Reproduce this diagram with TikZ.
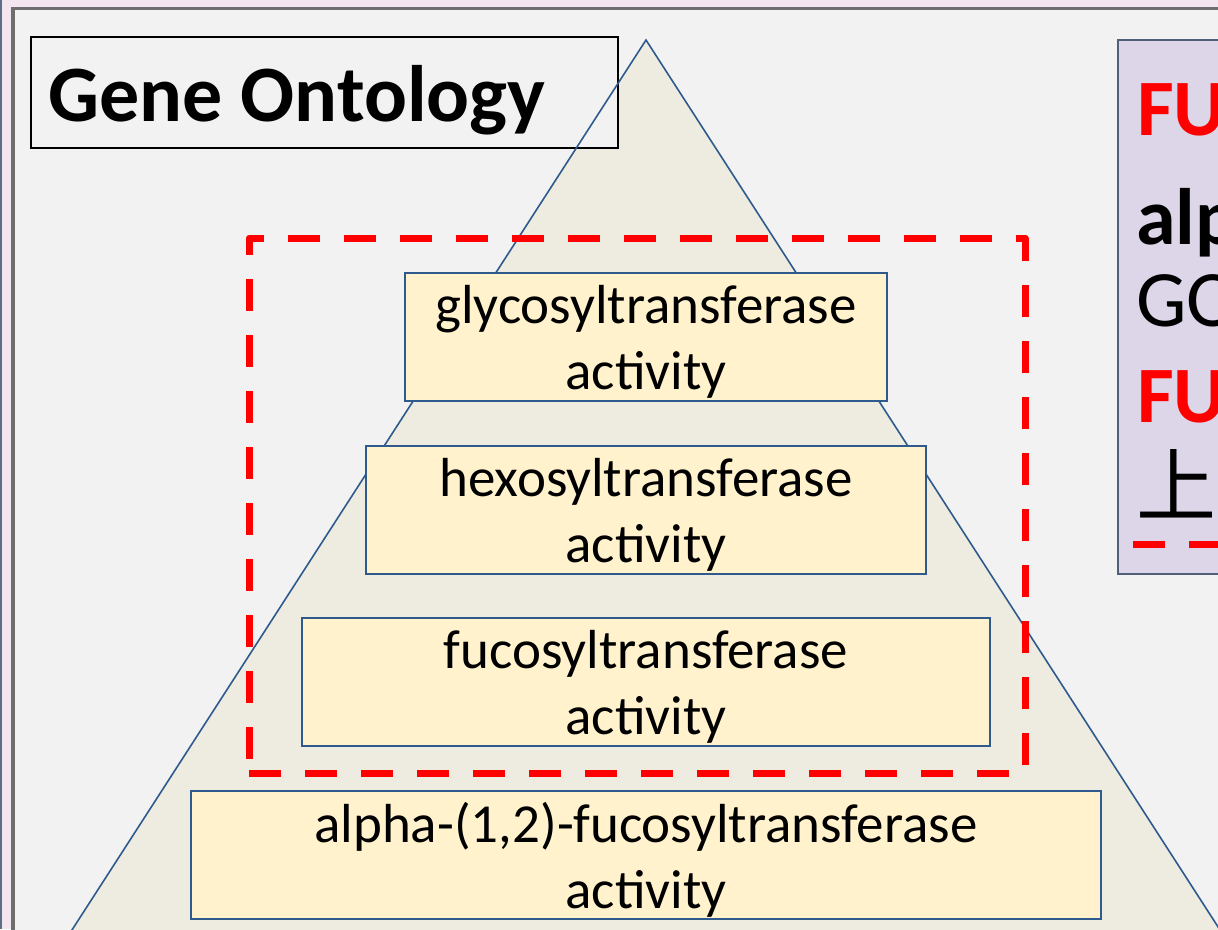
\documentclass[tikz,border=0pt]{standalone}
\usepackage{fontspec}
\setmainfont{Carlito}
\newfontfamily\cjkfont{Noto Sans CJK SC}
\usepackage{xcolor}
\definecolor{slidepink}{HTML}{F3E6EE}
\definecolor{slideedge}{HTML}{5F6F88}
\definecolor{framegray}{HTML}{6E6E6E}
\definecolor{pagegray}{HTML}{F2F2F2}
\definecolor{pyrfill}{HTML}{EEECE1}
\definecolor{pyredge}{HTML}{2F5A8E}
\definecolor{termfill}{HTML}{FFF2CC}
\definecolor{panelfill}{HTML}{DDD6E8}
\definecolor{paneledge}{HTML}{4F5F78}
\usepackage{tikz}

\begin{document}
\begin{tikzpicture}[
  x=1pt, y=-1pt,
  termbox/.style={draw=pyredge, line width=1.5pt, fill=termfill, minimum height=128pt, inner sep=0pt},
  termtxt/.style={align=center, inner sep=0pt, yshift=-5pt, font=\fontsize{55}{66}\selectfont},
  hilite/.style={draw=red, line width=7pt, dash pattern=on 32pt off 24pt, line join=round},
  bigtxt/.style={anchor=base west, inner sep=0pt, font=\fontsize{80}{96}\selectfont},
  bigbold/.style={bigtxt, font=\fontsize{80}{96}\selectfont\bfseries}
]
  \useasboundingbox (0,0) rectangle (1218,929);
  \clip (0,0) rectangle (1218,929);

  % slide background and frame
  \fill[slidepink] (0,0) rectangle (1218,929);
  \draw[slideedge, line width=2pt] (1,0) -- (1,929);
  \draw[framegray, line width=3.5pt, fill=pagegray] (12.8,8.5) rectangle (1300,1000);

  % pyramid
  \coordinate (apex) at (646,40);
  \fill[pyrfill] (apex) -- (26.8,1000) -- (1265.2,1000) -- cycle;

  % title
  \node[draw=black, line width=1.5pt, fill=pagegray, minimum width=587pt, minimum height=111pt,
        inner sep=0pt] (title) at (324.5,92.5) {};
  \node[bigbold] (titletxt) at (48,121) {Gene Ontology};

  \draw[pyredge, line width=1.6pt] (26.8,1000) -- (apex) -- (1265.2,1000);

  % GO terms, general to specific
  \node[termbox, minimum width=482pt, label={[termtxt]center:glycosyltransferase\\activity}] (glyco) at (646,337) {};
  \node[termbox, minimum width=560pt, label={[termtxt]center:hexosyltransferase\\activity}] (hexo) at (646,510) {};
  \node[termbox, minimum width=688pt, label={[termtxt]center:fucosyltransferase\\activity}] (fuco) at (646,682) {};
  \node[termbox, minimum width=910pt, label={[termtxt]center:alpha-(1,2)-fucosyltransferase\\activity}] (alpha) at (646,855) {};

  \node[hilite, minimum width=776pt, minimum height=535pt, inner sep=0pt] (parents) at (637,505.5) {};

  % side panel
  \draw[paneledge, line width=2.5pt, fill=panelfill] (1118,40) rectangle (1300,574);
  \node[bigbold, text=red] (fua) at (1137,135) {FU};
  \node[bigbold] (alp) at (1136,244) {alp};
  \node[bigtxt] (goid) at (1136,326) {GO};
  \node[bigbold, text=red] (fub) at (1137,422) {FU};
  \node[bigtxt, font=\fontsize{80}{96}\cjkfont] (shang) at (1136,515) {上};
  \coordinate (ulstart) at (1133,544);
  \draw[hilite] (ulstart) -- ++(120,0);
\end{tikzpicture}
\end{document}
